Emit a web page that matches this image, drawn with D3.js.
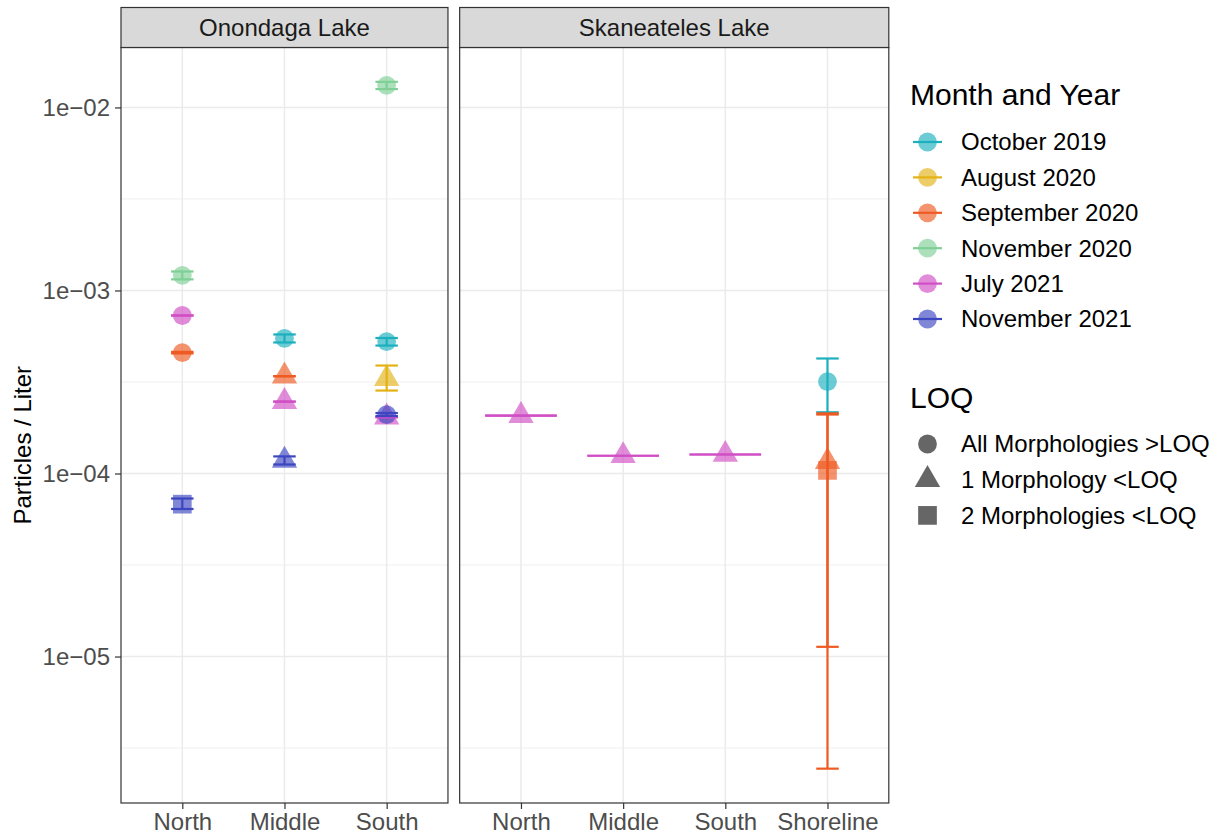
<!DOCTYPE html>
<html><head><meta charset="utf-8">
<script src="https://cdn.jsdelivr.net/npm/d3@7"></script>
<style>body{margin:0;background:#fff} text{font-family:"Liberation Sans",Arial,Helvetica,sans-serif}</style>
</head><body><svg id="c" width="1223" height="834"></svg>
<script>
// ---------- data ----------
const lakes = ["Onondaga Lake", "Skaneateles Lake"];
const lakeSites = [["North", "Middle", "South"], ["North", "Middle", "South", "Shoreline"]];
const months = ["October 2019", "August 2020", "September 2020", "November 2020", "July 2021", "November 2021"];
const monthColors = ["#1CB0BE", "#E4B216", "#EE5A22", "#7FCF97", "#D04FC4", "#3C46C0"];
const loqLevels = ["All Morphologies >LOQ", "1 Morphology <LOQ", "2 Morphologies <LOQ"];
const yTicks = [1e-5, 1e-4, 1e-3, 1e-2];
const yTickLabels = ["1e\u221205", "1e\u221204", "1e\u221203", "1e\u221202"];

const obsLake  = [0, 0, 0, 0, 0, 0, 0, 0, 0, 0, 0, 0, 0, 1, 1, 1, 1, 1, 1];
const obsSite  = ["North", "North", "North", "North", "Middle", "Middle", "Middle", "Middle",
                  "South", "South", "South", "South", "South",
                  "North", "Middle", "South", "Shoreline", "Shoreline", "Shoreline"];
const obsMonth = [3, 4, 2, 5, 0, 2, 4, 5, 3, 0, 1, 4, 5, 4, 4, 4, 0, 2, 2];
const obsLOQ   = [0, 0, 0, 2, 0, 1, 1, 1, 0, 0, 1, 1, 0, 1, 1, 1, 0, 1, 2];
const obsValue = [1.21e-3, 7.3e-4, 4.58e-4, 6.8e-5, 5.47e-4, 3.40e-4, 2.47e-4, 1.18e-4,
                  1.32e-2, 5.26e-4, 3.30e-4, 2.03e-4, 2.10e-4,
                  2.07e-4, 1.25e-4, 1.27e-4, 3.18e-4, 1.16e-4, 1.04e-4];
const obsLow   = [1.15e-3, 7.3e-4, 4.53e-4, 6.4e-5, 5.2e-4, 3.40e-4, 2.47e-4, 1.12e-4,
                  1.26e-2, 5.0e-4, 2.84e-4, 2.03e-4, 2.06e-4,
                  2.07e-4, 1.25e-4, 1.27e-4, 2.16e-4, 1.13e-5, 2.44e-6];
const obsHigh  = [1.27e-3, 7.3e-4, 4.62e-4, 7.3e-5, 5.75e-4, 3.40e-4, 2.47e-4, 1.24e-4,
                  1.38e-2, 5.5e-4, 3.89e-4, 2.03e-4, 2.14e-4,
                  2.07e-4, 1.25e-4, 1.27e-4, 4.25e-4, 2.13e-4, 2.10e-4];

const obs = obsValue.map((v, i) => ({
  lake: obsLake[i], site: obsSite[i], month: obsMonth[i], loq: obsLOQ[i],
  value: v, lo: obsLow[i], hi: obsHigh[i]
}));

// ---------- layout ----------
const svg = d3.select("#c");
const plotLeft = 121, plotRight = 888.8, panelGap = 11.7;
const plotTop = 47.5, plotBottom = 803, stripTop = 7.5;
const FONT = 24;

const totalUnits = d3.sum(lakeSites, s => s.length - 1 + 1.2);
const unit = (plotRight - plotLeft - panelGap * (lakes.length - 1)) / totalUnits;

// log y scale with 5% expansion (in log space) of data range
const lmin = Math.log10(d3.min(obs, d => Math.min(d.lo, d.value)));
const lmax = Math.log10(d3.max(obs, d => Math.max(d.hi, d.value)));
const pad = (lmax - lmin) * 0.05;
const y = d3.scaleLog().domain([Math.pow(10, lmin - pad), Math.pow(10, lmax + pad)]).range([plotBottom, plotTop]);
const minorTicks = yTicks.map(t => t * Math.sqrt(10)).concat([yTicks[0] / Math.sqrt(10)])
  .filter(t => t >= y.domain()[0] && t <= y.domain()[1]);

const color = i => monthColors[i];
const R = 9.4;
function drawShape(g, loq, cx, cy, fill, op) {
  if (loq === 0) {
    g.append("circle").attr("cx", cx).attr("cy", cy).attr("r", R).attr("fill", fill).attr("fill-opacity", op);
  } else if (loq === 1) {
    const t = 1.555 * R, b = 0.778 * R, w = 1.347 * R;
    g.append("path").attr("d", `M${cx},${cy - t}L${cx + w},${cy + b}L${cx - w},${cy + b}Z`)
      .attr("fill", fill).attr("fill-opacity", op);
  } else {
    const h = 9.35;
    g.append("rect").attr("x", cx - h).attr("y", cy - h).attr("width", 2 * h).attr("height", 2 * h)
      .attr("fill", fill).attr("fill-opacity", op);
  }
}

let x0 = plotLeft;
lakes.forEach((lake, li) => {
  const sites = lakeSites[li];
  const w = (sites.length - 1 + 1.2) * unit;
  const x = d3.scalePoint().domain(sites).range([x0, x0 + w]).padding(0.6);
  const g = svg.append("g");

  // panel background + grid
  g.append("rect").attr("x", x0).attr("y", plotTop).attr("width", w).attr("height", plotBottom - plotTop).attr("fill", "#fff");
  g.selectAll(".ymin").data(minorTicks).enter().append("line")
    .attr("x1", x0).attr("x2", x0 + w).attr("y1", d => y(d)).attr("y2", d => y(d))
    .attr("stroke", "#EBEBEB").attr("stroke-width", 0.8);
  g.selectAll(".ymaj").data(yTicks).enter().append("line")
    .attr("x1", x0).attr("x2", x0 + w).attr("y1", d => y(d)).attr("y2", d => y(d))
    .attr("stroke", "#EBEBEB").attr("stroke-width", 1.5);
  g.selectAll(".xmaj").data(sites).enter().append("line")
    .attr("x1", d => x(d)).attr("x2", d => x(d)).attr("y1", plotTop).attr("y2", plotBottom)
    .attr("stroke", "#EBEBEB").attr("stroke-width", 1.5);

  // points
  const data = obs.filter(d => d.lake === li);
  const siteCount = d3.rollup(data, v => v.length, d => d.site);
  data.forEach(d => drawShape(g, d.loq, x(d.site), y(d.value), color(d.month), 0.65));

  // error bars
  data.forEach(d => {
    const cx = x(d.site);
    const half = (siteCount.get(d.site) === 1 ? 0.7 : 0.22) * unit / 2;
    const c = color(d.month);
    g.append("line").attr("x1", cx).attr("x2", cx).attr("y1", y(d.lo)).attr("y2", y(d.hi))
      .attr("stroke", c).attr("stroke-width", 2.2);
    [d.lo, d.hi].forEach(v => g.append("line").attr("x1", cx - half).attr("x2", cx + half)
      .attr("y1", y(v)).attr("y2", y(v)).attr("stroke", c).attr("stroke-width", 2.2));
  });

  // border
  g.append("rect").attr("x", x0).attr("y", plotTop).attr("width", w).attr("height", plotBottom - plotTop)
    .attr("fill", "none").attr("stroke", "#333333").attr("stroke-width", 1.2);

  // strip
  g.append("rect").attr("x", x0).attr("y", stripTop).attr("width", w).attr("height", plotTop - stripTop)
    .attr("fill", "#D9D9D9").attr("stroke", "#333333").attr("stroke-width", 1.2);
  g.append("text").attr("x", x0 + w / 2).attr("y", (stripTop + plotTop) / 2).attr("dy", "0.35em")
    .attr("text-anchor", "middle").attr("font-size", FONT).attr("fill", "#1A1A1A").text(lake);

  // x axis
  const xa = svg.append("g").attr("transform", `translate(0,${plotBottom})`)
    .call(d3.axisBottom(x).tickSize(6).tickPadding(4));
  xa.select(".domain").remove();
  xa.selectAll(".tick line").attr("stroke", "#333333").attr("stroke-width", 1.2);
  xa.selectAll(".tick text").attr("font-size", FONT).attr("fill", "#4D4D4D")
    .attr("font-family", "Liberation Sans, Arial, sans-serif");

  x0 += w + panelGap;
});

// y axis
const ya = svg.append("g").attr("transform", `translate(${plotLeft},0)`)
  .call(d3.axisLeft(y).tickValues(yTicks).tickFormat((d, i) => yTickLabels[i]).tickSize(6).tickPadding(5));
ya.select(".domain").remove();
ya.selectAll(".tick line").attr("stroke", "#333333").attr("stroke-width", 1.2);
ya.selectAll(".tick text").attr("font-size", FONT).attr("fill", "#4D4D4D")
  .attr("font-family", "Liberation Sans, Arial, sans-serif");

svg.append("text").attr("transform", `translate(31,${(plotTop + plotBottom) / 2 + 20}) rotate(-90)`)
  .attr("text-anchor", "middle").attr("font-size", 24).attr("fill", "#000").text("Particles / Liter");

// ---------- legends ----------
const lg = svg.append("g");
const keyX = 927.5, labX = 961;
lg.append("text").attr("x", 910).attr("y", 105).attr("font-size", 30).attr("fill", "#000").text("Month and Year");
months.forEach((m, i) => {
  const cy = 142 + i * 35.4;
  drawShape(lg, 0, keyX, cy, monthColors[i], 0.65);
  lg.append("line").attr("x1", keyX - 14.5).attr("x2", keyX + 14.5).attr("y1", cy).attr("y2", cy)
    .attr("stroke", monthColors[i]).attr("stroke-width", 2.2);
  lg.append("text").attr("x", labX).attr("y", cy).attr("dy", "0.35em").attr("font-size", FONT).attr("fill", "#000").text(m);
});
lg.append("text").attr("x", 910).attr("y", 408).attr("font-size", 30).attr("fill", "#000").text("LOQ");
loqLevels.forEach((l, i) => {
  const cy = 444 + i * 35.7;
  drawShape(lg, i, keyX, cy, "#000", 0.6);
  lg.append("text").attr("x", labX).attr("y", cy).attr("dy", "0.35em").attr("font-size", FONT).attr("fill", "#000").text(l);
});
</script>
</body></html>
